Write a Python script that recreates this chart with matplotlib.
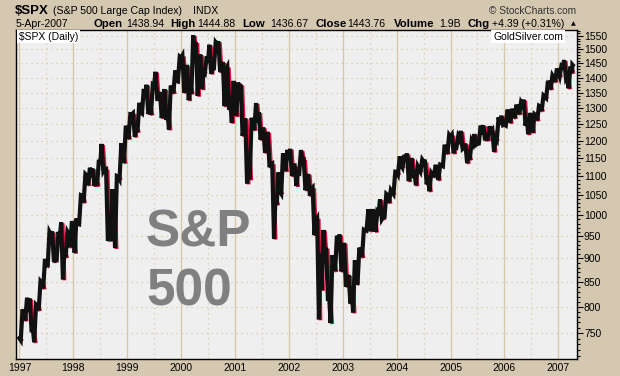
import numpy as np
import matplotlib.pyplot as plt
from matplotlib import transforms
from matplotlib.collections import LineCollection
from matplotlib.ticker import FixedLocator, NullFormatter, NullLocator

plt.rcParams['font.family'] = ['Liberation Sans', 'DejaVu Sans']

# monthly $SPX values, Jan 1997 .. 5-Apr-2007
first_open = 740.74
highs = [794.7, 817.7, 816.0, 804.0, 851.5, 899.0, 960.3, 961.6, 960.5, 983.1, 961.0, 986.0,
         992.6, 1050.7, 1105.7, 1123.4, 1121.0, 1145.0, 1190.6, 1121.0, 1066.0, 1100.6, 1192.7, 1244.9,
         1280.4, 1283.7, 1316.6, 1362.0, 1376.0, 1376.3, 1420.3, 1352.0, 1361.4, 1373.2, 1424.7, 1473.6,
         1478.0, 1444.6, 1552.9, 1527.2, 1481.5, 1474.6, 1517.3, 1525.2, 1530.1, 1454.8, 1438.5, 1389.1,
         1383.4, 1376.7, 1267.4, 1269.3, 1315.9, 1286.6, 1239.8, 1226.3, 1135.5, 1110.6, 1163.4, 1173.6,
         1176.6, 1130.2, 1173.0, 1147.8, 1106.6, 1070.7, 994.5, 965.0, 924.0, 907.4, 951.6, 954.3,
         935.1, 864.6, 895.9, 924.2, 965.4, 1015.3, 1015.4, 1011.0, 1040.3, 1053.8, 1063.7, 1112.6,
         1155.4, 1159.0, 1163.2, 1150.6, 1127.7, 1146.3, 1140.8, 1109.7, 1131.5, 1131.9, 1188.5, 1217.3,
         1217.8, 1212.4, 1229.1, 1192.0, 1199.6, 1219.6, 1245.2, 1245.9, 1243.1, 1233.3, 1270.6, 1275.8,
         1294.9, 1297.6, 1310.9, 1318.2, 1326.7, 1284.0, 1280.4, 1306.7, 1340.3, 1389.4, 1407.9, 1431.8,
         1441.6, 1461.6, 1438.9, 1444.9]
lows = [737.0, 773.4, 756.1, 733.5, 793.2, 836.4, 885.0, 892.0, 898.0, 855.3, 902.7, 925.0,
        912.8, 979.0, 1032.1, 1076.7, 1074.7, 1074.8, 1114.3, 940.0, 939.9, 923.3, 1092.2, 1136.9,
        1205.5, 1211.9, 1226.2, 1282.8, 1281.2, 1279.2, 1328.7, 1268.4, 1263.1, 1233.7, 1348.2, 1387.4,
        1350.0, 1325.1, 1346.6, 1339.4, 1361.1, 1415.7, 1413.9, 1431.6, 1419.4, 1305.8, 1294.9, 1254.1,
        1274.6, 1214.6, 1081.2, 1092.0, 1232.0, 1203.0, 1165.5, 1124.9, 944.8, 1026.8, 1054.3, 1114.3,
        1101.0, 1074.4, 1106.7, 1063.5, 1049.0, 952.9, 775.7, 833.4, 815.3, 768.6, 872.6, 872.0,
        840.3, 806.3, 788.9, 847.9, 902.8, 963.4, 962.1, 960.8, 990.4, 995.9, 1031.2, 1053.4,
        1105.1, 1124.4, 1087.2, 1104.0, 1076.3, 1113.3, 1078.8, 1060.7, 1102.3, 1090.2, 1128.0, 1162.8,
        1163.8, 1180.0, 1176.9, 1136.2, 1146.2, 1188.3, 1192.0, 1201.1, 1201.1, 1168.2, 1201.1, 1246.6,
        1245.7, 1253.6, 1268.4, 1280.7, 1245.3, 1219.3, 1224.5, 1261.3, 1290.9, 1331.8, 1361.0, 1385.9,
        1404.0, 1398.0, 1364.0, 1416.4]
closes = [786.2, 790.8, 757.1, 801.3, 848.3, 885.1, 954.3, 899.5, 947.3, 914.6, 955.4, 970.4,
          980.3, 1049.3, 1101.8, 1111.8, 1090.8, 1133.8, 1120.7, 957.3, 1017.0, 1098.7, 1163.6, 1229.2,
          1279.6, 1238.3, 1286.4, 1335.2, 1301.8, 1372.7, 1328.7, 1320.4, 1282.7, 1362.9, 1388.9, 1469.3,
          1394.5, 1366.4, 1498.6, 1452.4, 1420.6, 1454.6, 1430.8, 1517.7, 1436.5, 1429.4, 1315.0, 1320.3,
          1366.0, 1239.9, 1160.3, 1249.5, 1255.8, 1224.4, 1211.2, 1133.6, 1040.9, 1059.8, 1139.5, 1148.1,
          1130.2, 1106.7, 1147.4, 1076.9, 1067.1, 989.8, 911.6, 916.1, 815.3, 885.8, 936.3, 879.8,
          855.7, 841.2, 848.2, 916.9, 963.6, 974.5, 990.3, 1008.0, 996.0, 1050.7, 1058.2, 1111.9,
          1131.1, 1144.9, 1126.2, 1107.3, 1120.7, 1140.8, 1101.7, 1104.2, 1114.6, 1130.2, 1173.8, 1211.9,
          1181.3, 1203.6, 1180.6, 1156.9, 1191.5, 1191.3, 1234.2, 1220.3, 1228.8, 1207.0, 1249.5, 1248.3,
          1280.1, 1280.7, 1294.8, 1310.6, 1270.1, 1270.2, 1276.7, 1303.8, 1335.9, 1377.9, 1400.6, 1418.3,
          1438.2, 1406.8, 1420.9, 1443.8]
start_year = 1997
last_month_days = 4  # trading days in Apr 2007 shown

price_ticks = list(range(750, 1551, 50))
years = list(range(1997, 2008))

bg = '#d5c8b0'
face = '#efefef'
grid_c = '#d8c6a4'
red = '#dd1040'

fig = plt.figure(figsize=(6.2, 3.76), dpi=100, facecolor=bg)
ax = fig.add_axes([16 / 620, 1 - 359 / 376, (577 - 16) / 620, (359 - 30) / 376])
ax.set_facecolor(face)

# build an open -> extreme -> extreme -> close path for each month
px, py = [], []
prev = first_open
n = len(closes)
for i in range(n):
    t0 = start_year + i / 12
    dt = 1 / 12 if i < n - 1 else (1 / 12) * last_month_days / 21
    if closes[i] >= prev:
        seq = [prev, lows[i], highs[i], closes[i]]
    else:
        seq = [prev, highs[i], lows[i], closes[i]]
    for f, v in zip([0, 0.3, 0.7, 1.0], seq):
        px.append(t0 + f * dt)
        py.append(v)
    prev = closes[i]
px = np.array(px)
py = np.array(py)

pts = np.column_stack([px, py])
segs = np.stack([pts[:-1], pts[1:]], axis=1)
falling = segs[:, 1, 1] < segs[:, 0, 1]

off = transforms.offset_copy(ax.transData, fig=fig, x=1.5, y=-1.0, units='dots')
ax.add_collection(LineCollection(segs[falling], colors=red, linewidths=2.8,
                                 transform=off, zorder=3, capstyle='butt'))
ax.plot(px, py, color='#111111', lw=3.0, zorder=4, solid_joinstyle='miter')

ax.set_yscale('log')
ax.set_ylim(704, 1573)
ax.set_xlim(1996.937, 2007.347)

ax.yaxis.tick_right()
ax.yaxis.set_major_locator(FixedLocator(price_ticks))
ax.yaxis.set_major_formatter(plt.FixedFormatter([str(v) for v in price_ticks]))
ax.yaxis.set_minor_locator(FixedLocator(list(range(710, 1571, 10))))
ax.yaxis.set_minor_formatter(NullFormatter())
ax.tick_params(axis='y', which='major', length=4, width=0.8, pad=1, labelsize=7.5, direction='out')
ax.tick_params(axis='y', which='minor', length=2, width=0.8, direction='out')

ax.xaxis.set_major_locator(FixedLocator(years))
ax.xaxis.set_major_formatter(plt.FixedFormatter([str(y) for y in years]))
ax.xaxis.set_minor_locator(NullLocator())
ax.tick_params(axis='x', length=0, pad=3, labelsize=7.5)

for y in years:
    ax.axvline(y, color=grid_c, lw=0.9, zorder=1)
for y in years[:-1]:
    ax.axvline(y + 0.5, color=grid_c, lw=0.9, ls=(0, (1, 3)), zorder=1)
for v in price_ticks:
    ax.axhline(v, color=grid_c, lw=0.9, ls=(0, (1, 3)), zorder=1)

for s in ax.spines.values():
    s.set_color('black')
    s.set_linewidth(1.0)

# header
fig.text(15 / 620, 1 - 11 / 376, '$SPX', fontsize=9.5, fontweight='bold', va='center')
fig.text(53 / 620, 1 - 11 / 376, '(S&P 500 Large Cap Index)', fontsize=7.6, va='center')
fig.text(193 / 620, 1 - 11 / 376, 'INDX', fontsize=7.6, va='center')
fig.text(576 / 620, 1 - 11 / 376, '\u00a9 StockCharts.com', fontsize=7.3, va='center', ha='right',
         color='#333333')

row = 1 - 24 / 376
fig.text(16 / 620, row, '5-Apr-2007', fontsize=7.6, va='center')
parts = [(94, 'Open', True), (126, '1438.94', False), (170, 'High', True), (197, '1444.88', False),
         (242, 'Low', True), (270, '1436.67', False), (315, 'Close', True), (347, '1443.76', False),
         (394, 'Volume', True), (439, '1.9B', False), (468, 'Chg', True), (492, '+4.39 (+0.31%)', False)]
for x, s, b in parts:
    fig.text(x / 620, row, s, fontsize=8.2 if b else 7.6, fontweight='bold' if b else 'normal',
             va='center')
fig.text(571 / 620, row, '\u25b2', fontsize=4.5, va='center', family='DejaVu Sans')

ax.text(0.005, 0.995, '$SPX (Daily)', transform=ax.transAxes, fontsize=7.5, va='top', ha='left',
        zorder=6, bbox=dict(facecolor='white', edgecolor='none', pad=1.2))
ax.text(0.975, 0.995, 'GoldSilver.com', transform=ax.transAxes, fontsize=7.5, va='top', ha='right',
        zorder=6, bbox=dict(facecolor='white', edgecolor='none', pad=1.2))

fig.text(146 / 620, 1 - 233 / 376, 'S&P', fontsize=37, fontweight='bold', color='#808080',
         va='center', ha='left')
fig.text(146 / 620, 1 - 292 / 376, '500', fontsize=37, fontweight='bold', color='#808080',
         va='center', ha='left')

fig.savefig('out.png', dpi=100, facecolor=bg)
